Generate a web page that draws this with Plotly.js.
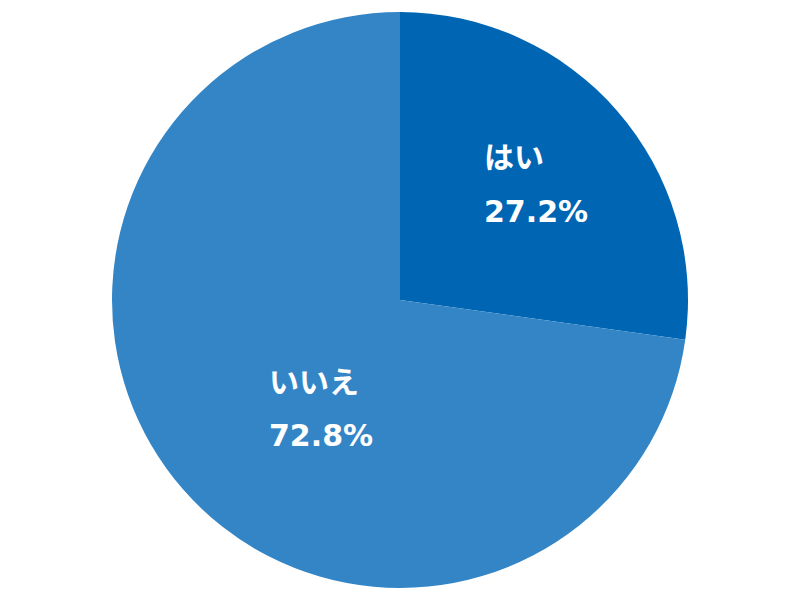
<!DOCTYPE html>
<html>
<head>
<meta charset="utf-8">
<script src="https://cdn.plot.ly/plotly-3.0.1.min.js"></script>
<style>html,body{margin:0;padding:0;background:#fff;}#chart{width:800px;height:600px;}</style>
</head>
<body>
<div id="chart"></div>
<script>
const labels = ["はい", "いいえ"];
const values = [27.2, 72.8];
const colors = ["#0066b3", "#3385c6"];

const labelPos = [
  {x: 0.603, yName: 0.737, yVal: 0.647},
  {x: 0.334, yName: 0.363, yVal: 0.275}
];
const font = {family: "'DejaVu Sans', 'Noto Sans CJK JP', sans-serif", size: 30, color: "#ffffff", weight: "bold"};
const annotations = [];
labels.forEach((l, i) => {
  annotations.push({text: "<b>" + l + "</b>", x: labelPos[i].x, y: labelPos[i].yName, xref: "paper", yref: "paper", xanchor: "left", yanchor: "middle", showarrow: false, font: font});
  annotations.push({text: "<b>" + values[i].toFixed(1) + "%</b>", x: labelPos[i].x, y: labelPos[i].yVal, xref: "paper", yref: "paper", xanchor: "left", yanchor: "middle", showarrow: false, font: font});
});

Plotly.newPlot("chart", [{
  type: "pie",
  labels: labels,
  values: values,
  marker: {colors: colors, line: {width: 0}},
  sort: false,
  direction: "clockwise",
  rotation: 0,
  textinfo: "none",
  hoverinfo: "label+percent",
  domain: {x: [0, 1], y: [0.02, 0.98]}
}], {
  width: 800, height: 600,
  margin: {l: 0, r: 0, t: 0, b: 0},
  showlegend: false,
  paper_bgcolor: "#ffffff",
  annotations: annotations
}, {displayModeBar: false, staticPlot: true});
</script>
</body>
</html>
